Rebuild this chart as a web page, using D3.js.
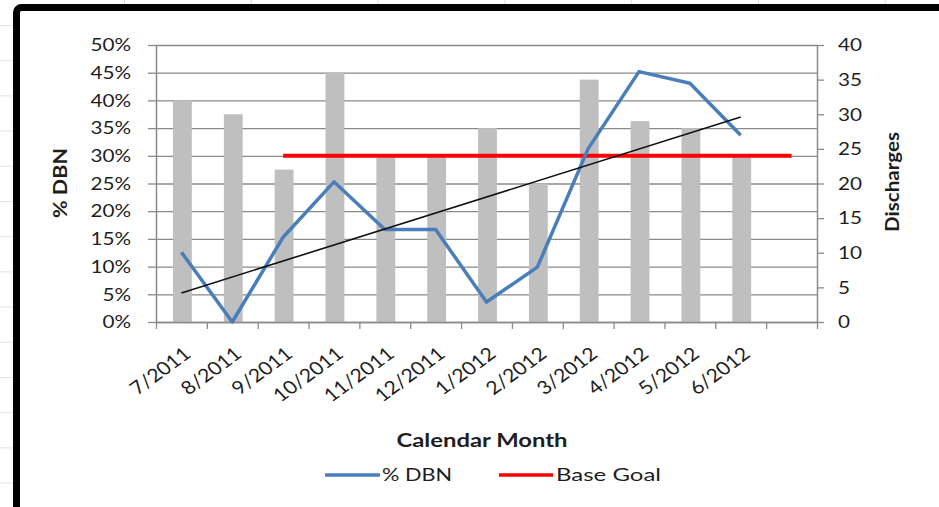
<!DOCTYPE html>
<html>
<head>
<meta charset="utf-8">
<script src="https://cdn.jsdelivr.net/npm/d3@7"></script>
<style>
  html, body { margin: 0; padding: 0; background: #ffffff; overflow: hidden; }
  svg { display: block; }
  text { font-family: Lato, "Open Sans", sans-serif; fill: #1e1e1e; }
</style>
</head>
<body>
<svg id="chart" width="939" height="507"></svg>
<script>
// ---- data ----
const categories = ["7/2011","8/2011","9/2011","10/2011","11/2011","12/2011","1/2012","2/2012","3/2012","4/2012","5/2012","6/2012",""];
const discharges = [32, 30, 22, 36, 24, 24, 28, 20, 35, 29, 28, 24, null];
const pctDBN     = [0.126, 0.0, 0.153, 0.253, 0.167, 0.167, 0.036, 0.099, 0.313, 0.452, 0.431, 0.337, null];
const baseGoal   = [null, null, 0.30, 0.30, 0.30, 0.30, 0.30, 0.30, 0.30, 0.30, 0.30, 0.30, 0.30];
const leftTicks  = [0, 0.05, 0.10, 0.15, 0.20, 0.25, 0.30, 0.35, 0.40, 0.45, 0.50];
const rightTicks = [0, 5, 10, 15, 20, 25, 30, 35, 40];
const seriesNames = ["% DBN", "Base Goal"];
const titles = { left: "% DBN", right: "Discharges", x: "Calendar Month" };

// ---- layout ----
const svg = d3.select("#chart");
const W = 939, H = 507;
const plot = { left: 156, right: 817, top: 45, bottom: 322 };
const pw = plot.right - plot.left, ph = plot.bottom - plot.top;
const SX = 1.15; // horizontal text stretch of the reference

// background worksheet grid (outside chart frame)
const bg = svg.append("g");
d3.range(0, 8).forEach(i => bg.append("line")
  .attr("x1", 124.5 + i * 126.8).attr("x2", 124.5 + i * 126.8)
  .attr("y1", 0).attr("y2", H).attr("stroke", "#dcdcdc").attr("stroke-width", 1));
d3.range(0, 15).forEach(i => bg.append("line")
  .attr("x1", 0).attr("x2", W)
  .attr("y1", 25.5 + i * 35.2).attr("y2", 25.5 + i * 35.2)
  .attr("stroke", "#e4e4e4").attr("stroke-width", 1));

// chart frame
svg.append("rect")
  .attr("x", 16.5).attr("y", 7.5).attr("width", 1000).attr("height", 600)
  .attr("rx", 5).attr("fill", "#ffffff").attr("stroke", "#000000").attr("stroke-width", 7);

// ---- scales ----
const x = d3.scaleBand().domain(categories).range([plot.left, plot.right]).paddingInner(0).paddingOuter(0);
const xEdge = d3.scaleLinear().domain([0, categories.length]).range([plot.left, plot.right]);
const yL = d3.scaleLinear().domain([0, 0.5]).range([plot.bottom, plot.top]);
const yR = d3.scaleLinear().domain([0, 40]).range([plot.bottom, plot.top]);
const cx = c => x(c) + x.bandwidth() / 2;

// gridlines
svg.append("g")
  .attr("transform", `translate(${plot.left},0)`)
  .call(d3.axisRight(yL).tickValues(leftTicks).tickSize(pw).tickFormat(""))
  .call(g => g.select(".domain").remove())
  .call(g => g.selectAll("line").attr("stroke", "#8a8a8a").attr("stroke-width", 1.3));

// bars (Discharges, right axis)
const barW = x.bandwidth() * 0.37;
svg.append("g").selectAll("rect")
  .data(categories.map((c, i) => ({ c, v: discharges[i] })).filter(d => d.v != null))
  .join("rect")
  .attr("x", d => cx(d.c) - barW / 2 + 1)
  .attr("width", barW)
  .attr("y", d => yR(d.v))
  .attr("height", d => yR(0) - yR(d.v))
  .attr("fill", "#bfbfbf");

// left axis
const gL = svg.append("g").attr("transform", `translate(${plot.left},0)`)
  .call(d3.axisLeft(yL).tickValues(leftTicks).tickSize(8).tickSizeOuter(0).tickFormat(d3.format(".0%")));
gL.select(".domain").attr("stroke", "#8a8a8a").attr("stroke-width", 1.5);
gL.selectAll(".tick line").attr("stroke", "#8a8a8a").attr("stroke-width", 1.3);
gL.selectAll(".tick text").attr("x", 0).attr("transform", `translate(-25,0) scale(${SX},1)`)
  .attr("font-size", 18).attr("fill", "#1e1e1e");

// right axis
const gR = svg.append("g").attr("transform", `translate(${plot.right},0)`)
  .call(d3.axisRight(yR).tickValues(rightTicks).tickSize(7).tickSizeOuter(0));
gR.select(".domain").attr("stroke", "#8a8a8a").attr("stroke-width", 1.5);
gR.selectAll(".tick line").attr("stroke", "#8a8a8a").attr("stroke-width", 1.3);
gR.selectAll(".tick text").attr("x", 0).attr("transform", `translate(21,0) scale(${SX},1)`)
  .attr("font-size", 18).attr("fill", "#1e1e1e");

// bottom axis: tick marks at category edges
const gB = svg.append("g").attr("transform", `translate(0,${plot.bottom})`)
  .call(d3.axisBottom(xEdge).tickValues(d3.range(0, categories.length + 1)).tickSize(7).tickSizeOuter(0).tickFormat(""));
gB.select(".domain").attr("stroke", "#8a8a8a").attr("stroke-width", 1.5);
gB.selectAll(".tick line").attr("stroke", "#8a8a8a").attr("stroke-width", 1.3);

// bottom axis labels (rotated)
const gBL = svg.append("g").attr("transform", `translate(0,${plot.bottom})`)
  .call(d3.axisBottom(x).tickSize(0).tickSizeOuter(0));
gBL.select(".domain").remove();
gBL.selectAll(".tick text")
  .attr("x", 0).attr("y", 0).attr("dy", "0.35em")
  .attr("text-anchor", "end")
  .attr("font-size", 18.5).attr("fill", "#1e1e1e")
  .attr("transform", `translate(6,29) scale(${SX},1) rotate(-40)`);

// base goal line
const lineL = d3.line().defined(d => d.v != null).x(d => cx(d.c)).y(d => yL(d.v));
svg.append("path")
  .datum(categories.map((c, i) => ({ c, v: baseGoal[i] })))
  .attr("d", lineL).attr("fill", "none").attr("stroke", "#ff0000").attr("stroke-width", 4);

// % DBN line
svg.append("path")
  .datum(categories.map((c, i) => ({ c, v: pctDBN[i] })))
  .attr("d", lineL).attr("fill", "none").attr("stroke", "#4a7ebb").attr("stroke-width", 3.5)
  .attr("stroke-linejoin", "round");

// linear trendline of % DBN
const pts = pctDBN.map((v, i) => ({ i, v })).filter(d => d.v != null);
const mx = d3.mean(pts, d => d.i), my = d3.mean(pts, d => d.v);
const slope = d3.sum(pts, d => (d.i - mx) * (d.v - my)) / d3.sum(pts, d => (d.i - mx) ** 2);
const icpt = my - slope * mx;
const i0 = pts[0].i, i1 = pts[pts.length - 1].i;
svg.append("path")
  .datum([i0, i1].map(i => ({ c: categories[i], v: icpt + slope * i })))
  .attr("d", lineL).attr("fill", "none").attr("stroke", "#111111").attr("stroke-width", 1.6);

// axis titles
svg.append("text")
  .attr("transform", "translate(67,183) rotate(-90)")
  .attr("text-anchor", "middle").attr("font-size", 19).attr("font-weight", "bold")
  .attr("textLength", 70).attr("lengthAdjust", "spacingAndGlyphs")
  .text(titles.left);
svg.append("text")
  .attr("transform", "translate(899,182) rotate(-90)")
  .attr("text-anchor", "middle").attr("font-size", 19).attr("font-weight", "bold")
  .attr("textLength", 100).attr("lengthAdjust", "spacingAndGlyphs")
  .text(titles.right);
svg.append("text")
  .attr("x", 482).attr("y", 447)
  .attr("text-anchor", "middle").attr("font-size", 19).attr("font-weight", "bold")
  .attr("textLength", 171).attr("lengthAdjust", "spacingAndGlyphs")
  .text(titles.x);

// legend
const legend = [
  { name: seriesNames[0], color: "#4a7ebb", x1: 325, x2: 380, tx: 382, tl: 70 },
  { name: seriesNames[1], color: "#ff0000", x1: 499, x2: 553, tx: 556, tl: 105 }
];
const lg = svg.append("g");
legend.forEach(d => {
  lg.append("line").attr("x1", d.x1).attr("x2", d.x2).attr("y1", 475).attr("y2", 475)
    .attr("stroke", d.color).attr("stroke-width", 3.5);
  lg.append("text").attr("x", d.tx).attr("y", 481).attr("font-size", 18)
    .attr("textLength", d.tl).attr("lengthAdjust", "spacingAndGlyphs").text(d.name);
});
</script>
</body>
</html>
